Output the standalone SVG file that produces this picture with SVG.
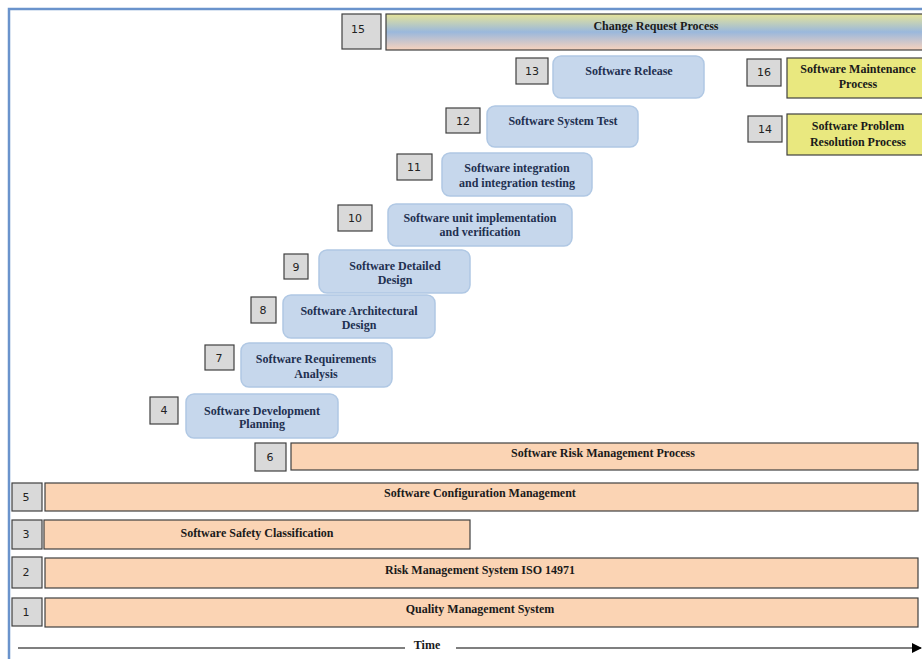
<svg xmlns="http://www.w3.org/2000/svg" width="922" height="659" viewBox="0 0 922 659">
<defs>
<linearGradient id="crg" x1="0" y1="0" x2="0" y2="1">
<stop offset="0" stop-color="#e6e49a"/>
<stop offset="0.5" stop-color="#9ab8dc"/>
<stop offset="1" stop-color="#f8d3bd"/>
</linearGradient>
<marker id="arr" markerWidth="10" markerHeight="10" refX="9" refY="5" orient="auto" markerUnits="userSpaceOnUse">
<path d="M0,0 L10,5 L0,10 Z" fill="#000"/>
</marker>
</defs>
<style>
.num{fill:#d9d9d9;stroke:#404040;stroke-width:1.2}
.numt{font-family:"DejaVu Sans",sans-serif;font-size:11px;fill:#222;text-anchor:middle}
.blue{fill:#c6d7ec;stroke:#b0c8e4;stroke-width:1.5}
.peach{fill:#fbd4b4;stroke:#404040;stroke-width:1.2}
.yel{fill:#e9e87f;stroke:#404040;stroke-width:1.2}
.bt{font-family:"Liberation Serif",serif;font-weight:bold;font-size:12px;fill:#1f3050;text-anchor:middle}
.pt{font-family:"Liberation Serif",serif;font-weight:bold;font-size:12px;fill:#1a1a1a;text-anchor:middle}
</style>
<rect width="922" height="659" fill="#fff"/>
<path d="M9,659 L9,9 L922,9" fill="none" stroke="#6a93cc" stroke-width="2.5"/>

<g id="n15"><rect class="num" x="342" y="14" width="39" height="35"/><text class="numt" x="358" y="33">15</text>
<rect x="386" y="14" width="540" height="36" fill="url(#crg)" stroke="#404040" stroke-width="1.2"/><text class="pt" x="656" y="30">Change Request Process</text></g>

<g id="n13"><rect class="num" x="516" y="58" width="32" height="26"/><text class="numt" x="532" y="75">13</text>
<rect class="blue" x="553" y="56" width="151" height="42" rx="8"/><text class="bt" x="629" y="75">Software Release</text></g>

<g id="n16"><rect class="num" x="747" y="59" width="34" height="27"/><text class="numt" x="764" y="76">16</text>
<rect class="yel" x="787" y="58" width="140" height="40"/><text class="pt" x="858" y="73">Software Maintenance</text><text class="pt" x="858" y="88">Process</text></g>

<g id="n14"><rect class="num" x="748" y="116" width="34" height="26"/><text class="numt" x="765" y="133">14</text>
<rect class="yel" x="787" y="114" width="140" height="41"/><text class="pt" x="858" y="130">Software Problem</text><text class="pt" x="858" y="146">Resolution Process</text></g>

<g id="n12"><rect class="num" x="446" y="108" width="34" height="25"/><text class="numt" x="463" y="125">12</text>
<rect class="blue" x="487" y="106" width="151" height="41" rx="8"/><text class="bt" x="563" y="125">Software System Test</text></g>

<g id="n11"><rect class="num" x="397" y="154" width="35" height="26"/><text class="numt" x="414" y="171">11</text>
<rect class="blue" x="442" y="153" width="150" height="43" rx="8"/><text class="bt" x="517" y="172">Software integration</text><text class="bt" x="517" y="187">and integration testing</text></g>

<g id="n10"><rect class="num" x="338" y="205" width="34" height="26"/><text class="numt" x="355" y="222">10</text>
<rect class="blue" x="388" y="204" width="184" height="42" rx="8"/><text class="bt" x="480" y="222">Software unit implementation</text><text class="bt" x="480" y="236">and verification</text></g>

<g id="n9"><rect class="num" x="284" y="254" width="24" height="25"/><text class="numt" x="296" y="271">9</text>
<rect class="blue" x="319" y="250" width="151" height="43" rx="8"/><text class="bt" x="395" y="270">Software Detailed</text><text class="bt" x="395" y="284">Design</text></g>

<g id="n8"><rect class="num" x="251" y="297" width="25" height="26"/><text class="numt" x="263" y="314">8</text>
<rect class="blue" x="283" y="295" width="152" height="43" rx="8"/><text class="bt" x="359" y="315">Software Architectural</text><text class="bt" x="359" y="329">Design</text></g>

<g id="n7"><rect class="num" x="205" y="345" width="29" height="25"/><text class="numt" x="219" y="362">7</text>
<rect class="blue" x="241" y="343" width="151" height="44" rx="8"/><text class="bt" x="316" y="363">Software Requirements</text><text class="bt" x="316" y="378">Analysis</text></g>

<g id="n4"><rect class="num" x="150" y="397" width="28" height="27"/><text class="numt" x="164" y="414">4</text>
<rect class="blue" x="186" y="394" width="152" height="44" rx="8"/><text class="bt" x="262" y="415">Software Development</text><text class="bt" x="262" y="428">Planning</text></g>

<g id="n6"><rect class="num" x="255" y="443" width="31" height="28"/><text class="numt" x="270" y="461">6</text>
<rect class="peach" x="291" y="443" width="627" height="27"/><text class="pt" x="603" y="457">Software Risk Management Process</text></g>

<g id="n5"><rect class="num" x="12" y="483" width="30" height="28"/><text class="numt" x="26" y="501">5</text>
<rect class="peach" x="45" y="483" width="873" height="28"/><text class="pt" x="480" y="497">Software Configuration Management</text></g>

<g id="n3"><rect class="num" x="12" y="520" width="30" height="29"/><text class="numt" x="26" y="538">3</text>
<rect class="peach" x="44" y="520" width="426" height="29"/><text class="pt" x="257" y="537">Software Safety Classification</text></g>

<g id="n2"><rect class="num" x="12" y="557" width="30" height="31"/><text class="numt" x="26" y="576">2</text>
<rect class="peach" x="45" y="558" width="873" height="30"/><text class="pt" x="480" y="574">Risk Management System ISO 14971</text></g>

<g id="n1"><rect class="num" x="12" y="598" width="30" height="28"/><text class="numt" x="26" y="616">1</text>
<rect class="peach" x="45" y="598" width="873" height="29"/><text class="pt" x="480" y="613">Quality Management System</text></g>

<g id="connectors">
<line x1="18" y1="648" x2="405" y2="648" stroke="#555" stroke-width="1.5"/>
<line x1="456" y1="648" x2="921" y2="648" stroke="#555" stroke-width="1.5" marker-end="url(#arr)"/>
<text class="pt" x="427" y="649">Time</text>
</g>
</svg>
